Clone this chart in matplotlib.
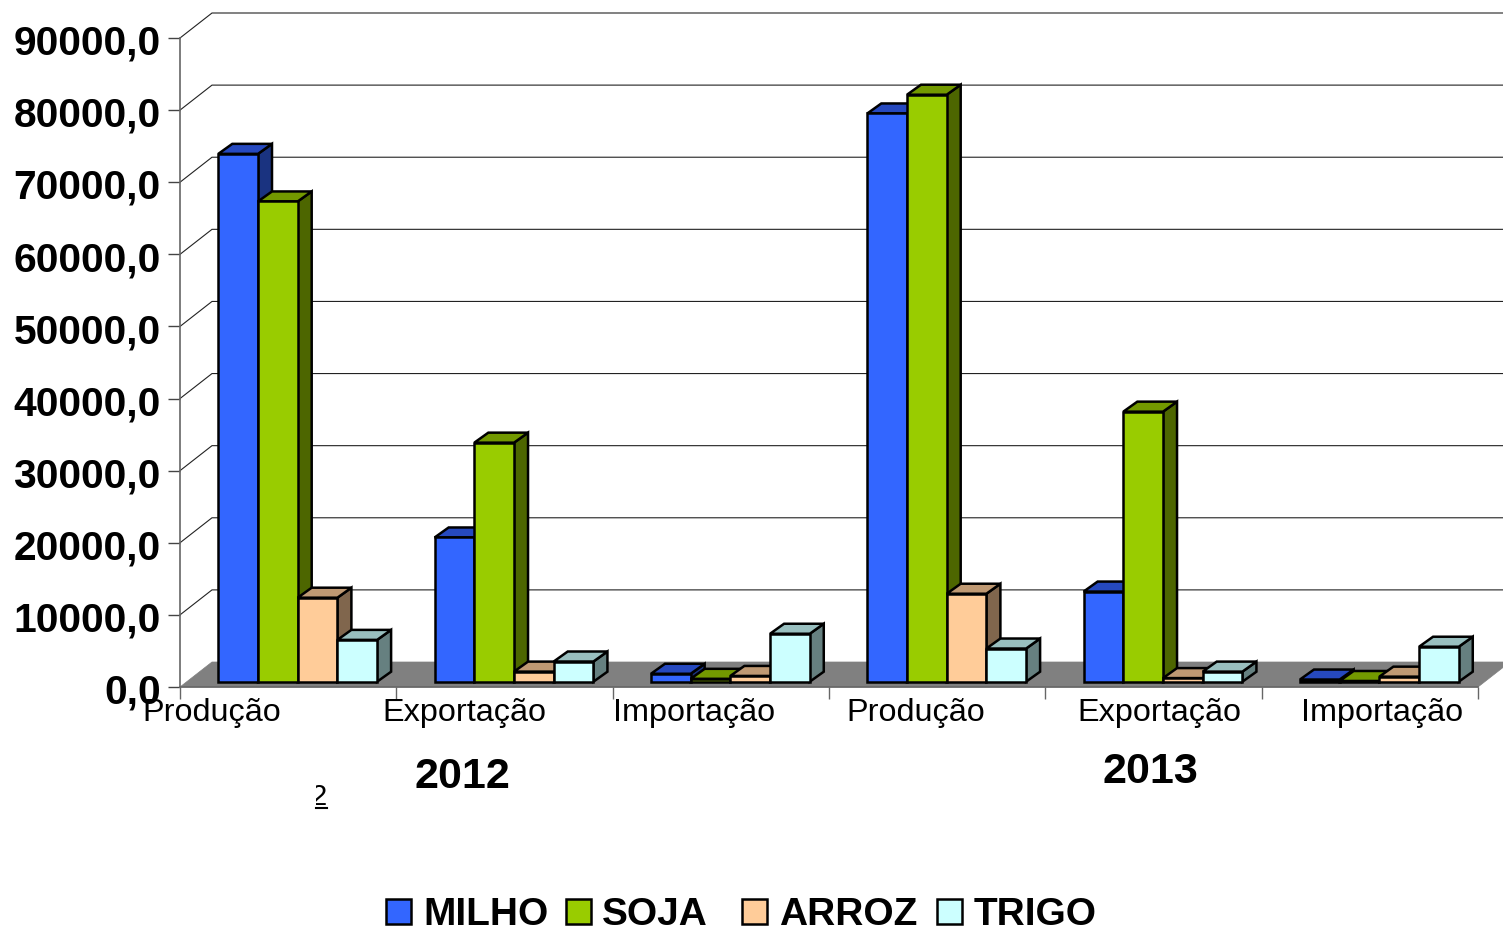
import matplotlib
matplotlib.use("Agg")
import matplotlib.pyplot as plt
from matplotlib.patches import Polygon, Rectangle
from matplotlib.transforms import ScaledTranslation
import numpy as np

plt.rcParams['font.family'] = ['Liberation Sans', 'DejaVu Sans']

W, H = 1503, 928

categories = ["Produção", "Exportação", "Importação", "Produção", "Exportação", "Importação"]
milho = [73200, 20000, 1100, 78800, 12500, 300]
soja = [66600, 33150, 400, 81400, 37450, 100]
arroz = [11650, 1400, 800, 12200, 500, 700]
trigo = [5800, 2800, 6650, 4600, 1400, 4850]
series_names = ["MILHO", "SOJA", "ARROZ", "TRIGO"]
series_values = [milho, soja, arroz, trigo]
yticks = [0, 10000, 20000, 30000, 40000, 50000, 60000, 70000, 80000, 90000]

# front, top, side
colors = [("#3366FF", "#2649BF", "#1A3380"),
          ("#99CC00", "#739900", "#4D6600"),
          ("#FFCC99", "#BF9973", "#80664D"),
          ("#CCFFFF", "#99BFBF", "#668080")]

fig = plt.figure(figsize=(W / 100, H / 100), dpi=100)
ax_left, ax_right, ax_top, ax_bottom = 180, 1478, 39, 688
ax = fig.add_axes([ax_left / W, 1 - ax_bottom / H, (ax_right - ax_left) / W, (ax_bottom - ax_top) / H])
ax.set_xlim(0, 6)
ax.set_ylim(0, 90000)
ax.patch.set_visible(False)

# size of one pixel in data units
px_x = 6 / (ax_right - ax_left)
px_y = 90000 / (ax_bottom - ax_top)

# chart depth
wall_dx, wall_dy = 32 * px_x, 25 * px_y
bar_dx, bar_dy = 14 * px_x, 10 * px_y
base = 5.3 * px_y
bar_w = 39.7 * px_x
bar_start = 38.3 * px_x

# walls and floor
ax.add_patch(Polygon([(0, 0), (wall_dx, wall_dy), (6 + wall_dx, wall_dy), (6, 0)],
                     facecolor="#808080", edgecolor="#808080", lw=0.5, clip_on=False, zorder=1))
for t in yticks[1:]:
    ax.plot([0, wall_dx, 6 + wall_dx], [t, t + wall_dy, t + wall_dy], color="#222222", lw=0.8,
            clip_on=False, zorder=1, solid_joinstyle="miter")

for s in ["top", "right"]:
    ax.spines[s].set_visible(False)
for s in ["left", "bottom"]:
    ax.spines[s].set_color("#666666")
    ax.spines[s].set_linewidth(1.2)
ax.set_yticks(yticks)
ax.set_yticklabels([f"{t},0" for t in yticks], fontsize=29.3, fontweight="bold")
ax.set_xticks(range(7))
ax.set_xticklabels([])
ax.tick_params(axis="y", length=8.6, width=1.0, color="#444444", pad=5.4)
ax.tick_params(axis="x", length=8.6, width=1.0, color="#666666")
for lbl in ax.get_yticklabels():
    lbl.set_transform(lbl.get_transform() + ScaledTranslation(0, -0.5 / 72, fig.dpi_scale_trans))

# bars, left to right so each one covers the side of the previous
for g in range(len(categories)):
    for s, vals in enumerate(series_values):
        x0 = g + bar_start + s * bar_w
        x1 = x0 + bar_w
        y0 = base
        y1 = base + vals[g]
        front, top, side = colors[s]
        ax.add_patch(Polygon([(x1, y0), (x1 + bar_dx, y0 + bar_dy), (x1 + bar_dx, y1 + bar_dy), (x1, y1)],
                             facecolor=side, edgecolor="black", lw=1.8, clip_on=False, zorder=3))
        ax.add_patch(Polygon([(x0, y1), (x0 + bar_dx, y1 + bar_dy), (x1 + bar_dx, y1 + bar_dy), (x1, y1)],
                             facecolor=top, edgecolor="black", lw=1.8, clip_on=False, zorder=3))
        ax.add_patch(Rectangle((x0, y0), bar_w, vals[g], facecolor=front, edgecolor="black", lw=1.8,
                               clip_on=False, zorder=3))


def put(x, y, s, **kw):
    return fig.text(x / W, 1 - y / H, s, **kw)


label_x = [212, 464, 694, 916, 1159, 1382]
for x, c in zip(label_x, categories):
    put(x, 721.5, c, fontsize=23.3, ha="center", va="baseline", color="black", zorder=5)

put(462, 777, "2012", fontsize=31, fontweight="bold", ha="center", va="center")
put(1150, 772, "2013", fontsize=31, fontweight="bold", ha="center", va="center")

# leftover cut-off label under the chart
stray = put(310, 805, "2", fontsize=21, ha="left", va="baseline")
stray.set_clip_path(Rectangle((316, H - 815), 20, 40, transform=None))
stray.set_clip_on(True)
fig.add_artist(plt.Line2D([316 / W, 327 / W], [1 - 808.5 / H] * 2, color="black", lw=1.5))

# legend
legend_sq = [386, 566, 742, 937]
legend_txt = [423, 602, 779, 974]
for i, name in enumerate(series_names):
    fig.add_artist(Rectangle((legend_sq[i] / W, 1 - 925 / H), 25 / W, 25 / H, transform=fig.transFigure,
                             facecolor=colors[i][0], edgecolor="black", lw=1.8))
    put(legend_txt[i], 925, name, fontsize=28, fontweight="bold", ha="left", va="baseline")

fig.savefig("out.png", dpi=100)
